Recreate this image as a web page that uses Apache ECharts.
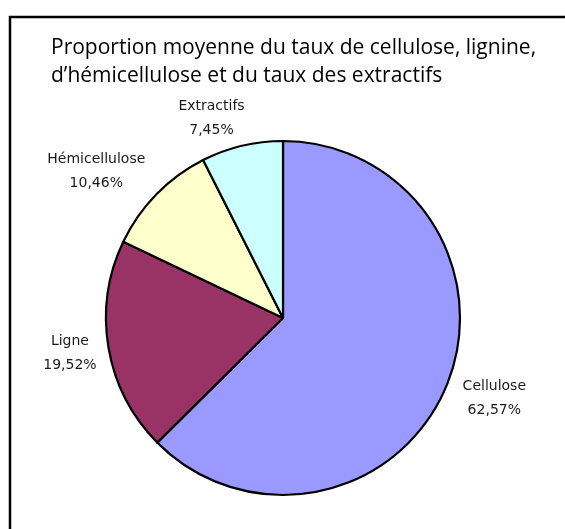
<!DOCTYPE html>
<html>
<head>
<meta charset="utf-8">
<script src="https://cdn.jsdelivr.net/npm/echarts@6/dist/echarts.min.js"></script>
<style>
html,body{margin:0;padding:0;background:#fff;}
#chart{width:565px;height:529px;}
</style>
</head>
<body>
<div id="chart"></div>
<script>
const titleText = "Proportion moyenne du taux de cellulose, lignine,\nd\u2019hémicellulose et du taux des extractifs";
const categories = ["Cellulose", "Ligne", "Hémicellulose", "Extractifs"];
const values = [62.57, 19.52, 10.46, 7.45];
const colors = ["#9999FF", "#993366", "#FFFFCC", "#CCFFFF"];
// label nudges (style only): [dx, dy] per slice
const labelNudge = [[2, 8], [3, 4], [1, -16], [10, -18]];

const chart = echarts.init(document.getElementById('chart'), null, {renderer: 'canvas'});
const data = categories.map((c, i) => ({name: c, value: values[i], itemStyle: {color: colors[i]}}));

chart.setOption({
  animation: false,
  backgroundColor: '#ffffff',
  title: {
    text: titleText,
    left: 46,
    top: 29,
    textStyle: {fontFamily: 'Open Sans', fontSize: 21, fontWeight: 'normal', color: '#000', lineHeight: 28}
  },
  graphic: [{
    type: 'rect',
    shape: {x: 10, y: 17, width: 700, height: 700},
    style: {fill: 'none', stroke: '#000', lineWidth: 2.5},
    z: 100
  }],
  series: [{
    type: 'pie',
    center: [283, 318],
    radius: 177,
    startAngle: 90,
    clockwise: true,
    avoidLabelOverlap: false,
    data: data,
    itemStyle: {borderColor: '#000', borderWidth: 2.2},
    label: {
      show: true,
      position: 'outside',
      fontFamily: 'DejaVu Sans',
      fontSize: 14,
      color: '#1a1a1a',
      lineHeight: 24,
      formatter: p => p.name + '\n' + p.value.toFixed(2).replace('.', ',') + '%'
    },
    labelLine: {show: false, length: 10, length2: 0},
    labelLayout: function (p) {
      const n = labelNudge[p.dataIndex];
      return {x: p.labelRect.x + p.labelRect.width / 2 + n[0], y: p.labelRect.y + p.labelRect.height / 2 + n[1], align: 'center', verticalAlign: 'middle'};
    },
    emphasis: {disabled: true}
  }]
});
</script>
</body>
</html>
